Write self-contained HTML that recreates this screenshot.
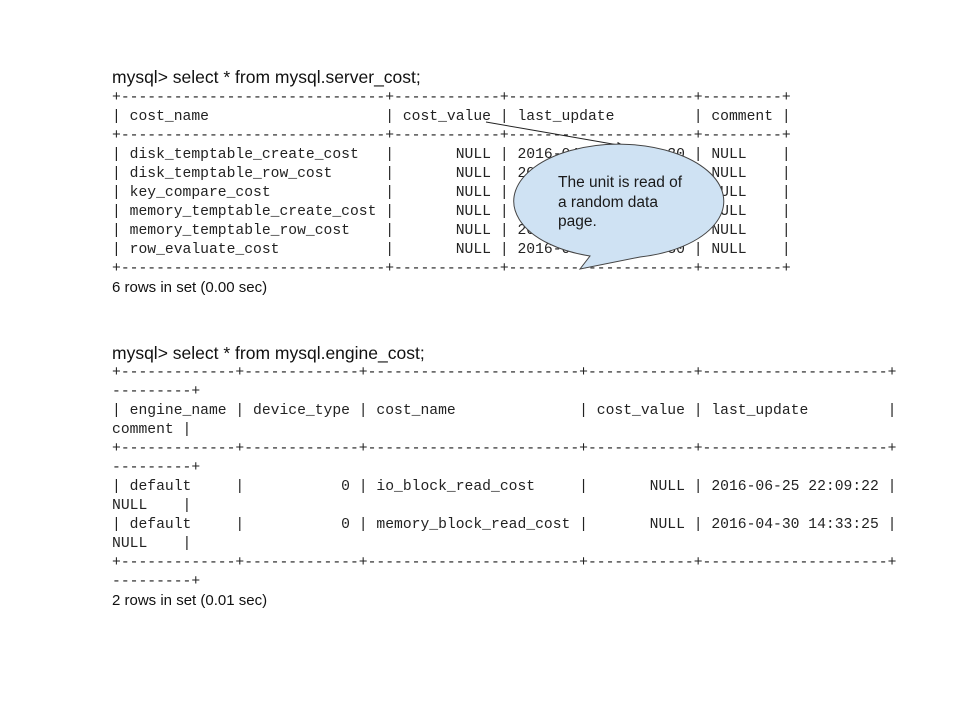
<!DOCTYPE html>
<html><head><meta charset="utf-8"><style>
body{margin:0;width:960px;height:720px;background:#fff;position:relative;overflow:hidden}
.s{position:absolute;left:112px;font-family:"Liberation Sans",Arial,sans-serif;color:#111;white-space:pre}
.m{position:absolute;left:112px;font-family:"Liberation Mono",monospace;font-size:14.7px;line-height:19px;height:19px;color:#222;white-space:pre}
</style></head><body>
<div class="s" style="top:67px;font-size:17.5px">mysql&gt; select * from mysql.server_cost;</div>
<div class="m" style="top:89px">+------------------------------+------------+---------------------+---------+</div>
<div class="m" style="top:108px">| cost_name                    | cost_value | last_update         | comment |</div>
<div class="m" style="top:127px">+------------------------------+------------+---------------------+---------+</div>
<div class="m" style="top:146px">| disk_temptable_create_cost   |       NULL | 2016-04-30 14:33:30 | NULL    |</div>
<div class="m" style="top:165px">| disk_temptable_row_cost      |       NULL | 2016-04-30 14:33:30 | NULL    |</div>
<div class="m" style="top:184px">| key_compare_cost             |       NULL | 2016-04-30 14:33:30 | NULL    |</div>
<div class="m" style="top:203px">| memory_temptable_create_cost |       NULL | 2016-04-30 14:33:30 | NULL    |</div>
<div class="m" style="top:222px">| memory_temptable_row_cost    |       NULL | 2016-04-30 14:33:30 | NULL    |</div>
<div class="m" style="top:241px">| row_evaluate_cost            |       NULL | 2016-04-30 14:33:30 | NULL    |</div>
<div class="m" style="top:260px">+------------------------------+------------+---------------------+---------+</div>
<div class="s" style="top:279px;font-size:15px">6 rows in set (0.00 sec)</div>

<svg style="position:absolute;left:0;top:0" width="960" height="720">
<defs><marker id="a" markerWidth="8" markerHeight="8" refX="7" refY="4" orient="auto"><path d="M0,1 L8,4 L0,7 z" fill="#222"/></marker></defs>
<line x1="486" y1="122" x2="624" y2="146" stroke="#222" stroke-width="1" marker-end="url(#a)"/>
<path d="M 590 256 A 105 57 0 1 1 640 257 L 580 269 Z" fill="#cfe2f3" stroke="#444" stroke-width="1"/>
<text x="558" y="187" font-family="Liberation Sans,Arial,sans-serif" font-size="15.5" fill="#1a1a1a">The unit is read of</text>
<text x="558" y="207" font-family="Liberation Sans,Arial,sans-serif" font-size="15.5" fill="#1a1a1a">a random data</text>
<text x="558" y="226" font-family="Liberation Sans,Arial,sans-serif" font-size="15.5" fill="#1a1a1a">page.</text>
</svg>

<div class="s" style="top:343px;font-size:17.5px">mysql&gt; select * from mysql.engine_cost;</div>
<div class="m" style="top:364px">+-------------+-------------+------------------------+------------+---------------------+</div>
<div class="m" style="top:383px">---------+</div>
<div class="m" style="top:402px">| engine_name | device_type | cost_name              | cost_value | last_update         |</div>
<div class="m" style="top:421px">comment |</div>
<div class="m" style="top:440px">+-------------+-------------+------------------------+------------+---------------------+</div>
<div class="m" style="top:459px">---------+</div>
<div class="m" style="top:478px">| default     |           0 | io_block_read_cost     |       NULL | 2016-06-25 22:09:22 |</div>
<div class="m" style="top:497px">NULL    |</div>
<div class="m" style="top:516px">| default     |           0 | memory_block_read_cost |       NULL | 2016-04-30 14:33:25 |</div>
<div class="m" style="top:535px">NULL    |</div>
<div class="m" style="top:554px">+-------------+-------------+------------------------+------------+---------------------+</div>
<div class="m" style="top:573px">---------+</div>
<div class="s" style="top:592px;font-size:15px">2 rows in set (0.01 sec)</div>
</body></html>
